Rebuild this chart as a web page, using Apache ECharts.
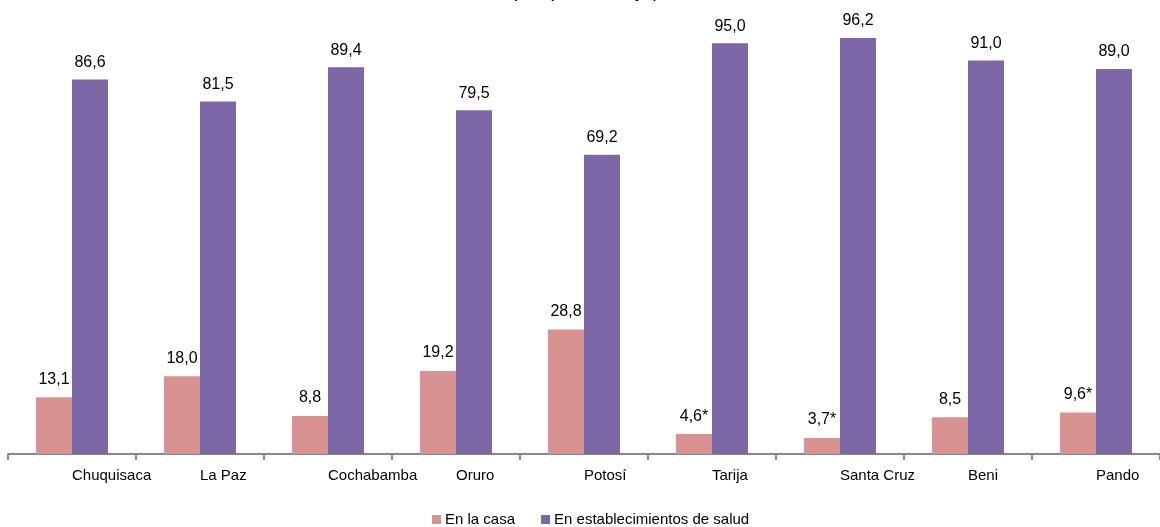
<!DOCTYPE html>
<html>
<head>
<meta charset="utf-8">
<script src="https://cdn.jsdelivr.net/npm/echarts@6/dist/echarts.min.js"></script>
<style>
html,body{margin:0;padding:0;background:#fff;}
#chart{width:1160px;height:527px;}
</style>
</head>
<body>
<div id="chart"></div>
<script>
const categories = ['Chuquisaca','La Paz','Cochabamba','Oruro','Potosí','Tarija','Santa Cruz','Beni','Pando'];
const enCasa = [13.1, 18.0, 8.8, 19.2, 28.8, 4.6, 3.7, 8.5, 9.6];
const enCasaFlag = [false, false, false, false, false, true, true, false, true];
const enEstablecimientos = [86.6, 81.5, 89.4, 79.5, 69.2, 95.0, 96.2, 91.0, 89.0];
const seriesNames = ['En la casa', 'En establecimientos de salud'];
const titleText = '(En porcentaje)';

const FONT = '"Liberation Sans", Arial, sans-serif';
const fmt = v => v.toFixed(1).replace('.', ',');

const chart = echarts.init(document.getElementById('chart'));
chart.setOption({
  animation: false,
  backgroundColor: '#ffffff',
  title: {
    text: titleText,
    left: 510,
    top: -21,
    padding: 0,
    textStyle: { fontFamily: FONT, fontSize: 22, fontWeight: 'normal', color: '#000' }
  },
  legend: {
    left: 432,
    top: 512,
    padding: 0,
    itemWidth: 9,
    itemHeight: 9,
    itemGap: 26,
    icon: 'rect',
    textStyle: { fontFamily: FONT, fontSize: 15, color: '#000', padding: [0,0,0,-1] },
    data: seriesNames
  },
  grid: { left: 8, top: 21.5, width: 1161, bottom: 73, containLabel: false },
  xAxis: {
    type: 'category',
    data: categories,
    axisLine: { lineStyle: { color: '#888888', width: 2 } },
    axisTick: { show: true, length: 6, lineStyle: { color: '#888888', width: 2 } },
    axisLabel: {
      align: 'left',
      margin: 14,
      fontFamily: FONT, fontSize: 15, color: '#000',
      interval: 0
    }
  },
  yAxis: {
    type: 'value', min: 0, max: 100,
    show: false,
    splitLine: { show: false }
  },
  series: [
    {
      name: seriesNames[0], type: 'bar', barWidth: 36, barGap: '0%',
      itemStyle: { color: '#D8928F' },
      data: enCasa,
      label: {
        show: true, position: 'top', distance: 10,
        fontFamily: FONT, fontSize: 16, color: '#000',
        formatter: p => fmt(p.value) + (enCasaFlag[p.dataIndex] ? '*' : '')
      }
    },
    {
      name: seriesNames[1], type: 'bar', barWidth: 36, barGap: '0%',
      itemStyle: { color: '#7D67A6' },
      data: enEstablecimientos,
      label: {
        show: true, position: 'top', distance: 9,
        fontFamily: FONT, fontSize: 16, color: '#000',
        formatter: p => fmt(p.value)
      }
    }
  ]
});
</script>
</body>
</html>
